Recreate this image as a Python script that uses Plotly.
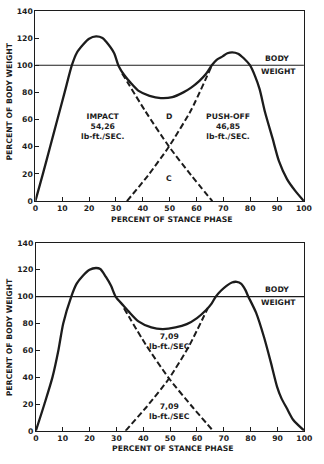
import plotly.graph_objects as go

W, H = 324, 464
INK = "#1c1c1c"
FONT = "DejaVu Sans"

# ---- data: top chart ----
top_x = [0, 2.8, 5.5, 8.2, 10.9, 13.6, 15.4, 17.8, 20, 22.6, 25, 26.3, 29.3, 31, 33,
         35.5, 38.3, 42.5, 46.7, 51, 55.1, 58, 61.1, 63.5, 65.7, 67.5, 69.7, 71.5, 73.3,
         75.5, 77.5, 79.9, 81.8, 83.5, 85.5, 88.3, 90.7, 93.7, 96.7, 100]
top_y = [0, 20, 40, 60, 80, 100, 109, 115.2, 119.5, 121.2, 120, 117.4, 109, 99.5, 93,
         87, 81.3, 77.5, 75.8, 76.5, 80, 83.5, 88.5, 93.5, 100, 104, 106.5, 108.8, 109.5,
         108.5, 105.3, 100, 92, 82.4, 65.6, 46.3, 29.4, 16.2, 7.7, 0]
top_c_x = [32.3, 41, 49.7, 58, 65.9]   # descending dashed (impact)
top_c_y = [94, 66, 40.3, 19, 0]
top_d_x = [34.1, 42, 49.7, 58, 65.6]   # ascending dashed (push-off)
top_d_y = [0, 19, 40, 67, 99.3]

# ---- data: bottom chart ----
bot_x = [0, 3.2, 6.2, 8.4, 10.2, 13.2, 15.2, 17.6, 20, 22.4, 24, 26.1, 28, 29.7, 32.5,
         34.5, 38.2, 43, 47.2, 52, 56.2, 60, 63.4, 65.5, 67, 69, 71, 73, 74.8, 76.5, 78,
         79, 82, 85, 87.5, 89.8, 91.5, 93.4, 95.8, 100]
bot_y = [0, 20, 40, 60, 80, 100, 109.6, 115.7, 120, 121.3, 120.5, 114.6, 108, 100, 93.5,
         89, 81.5, 77, 75.8, 77, 79.5, 84, 90, 95, 100, 104.5, 108, 110.5, 111, 109.5, 105,
         100.5, 88, 69.5, 51, 33, 24, 17, 8.3, 0]
bot_c_x = [32.8, 41, 49.6, 58, 66]
bot_c_y = [91.3, 64, 39, 18.5, 0]
bot_d_x = [33.4, 41.5, 49.6, 57, 64]
bot_d_y = [0, 18.5, 39, 63, 91.3]

bw_x = [0, 100]
bw_y = [100, 100]

x_ticks = list(range(0, 101, 10))
y_ticks = list(range(0, 141, 20))
x_title = "PERCENT OF STANCE PHASE"
y_title = "PERCENT OF BODY WEIGHT"

fig = go.Figure()

def add_chart(xa, ya, cx, cy, c1x, c1y, c2x, c2y):
    fig.add_trace(go.Scatter(x=bw_x, y=bw_y, mode="lines", xaxis=xa, yaxis=ya,
                             line=dict(color=INK, width=1.1), showlegend=False, hoverinfo="skip"))
    for dx, dy in ((c1x, c1y), (c2x, c2y)):
        fig.add_trace(go.Scatter(x=dx, y=dy, mode="lines", xaxis=xa, yaxis=ya,
                                 line=dict(color=INK, width=2, dash="6px,3px", shape="spline", smoothing=0.6),
                                 showlegend=False, hoverinfo="skip"))
    fig.add_trace(go.Scatter(x=cx, y=cy, mode="lines", xaxis=xa, yaxis=ya,
                             line=dict(color=INK, width=2.3, shape="spline", smoothing=0.7),
                             showlegend=False, hoverinfo="skip"))

add_chart("x", "y", top_x, top_y, top_c_x, top_c_y, top_d_x, top_d_y)
add_chart("x2", "y2", bot_x, bot_y, bot_c_x, bot_c_y, bot_d_x, bot_d_y)

def px_x(p):
    return p / W

def px_y(p):
    return 1 - p / H

axis_common = dict(showgrid=False, zeroline=False, showline=True, linecolor=INK, linewidth=1,
                   mirror=True, ticks="inside", ticklen=4, tickwidth=1, tickcolor=INK,
                   tickfont=dict(family=FONT, size=7.7, color=INK, weight="bold"))

fig.update_layout(
    width=W, height=H, margin=dict(l=0, r=0, t=0, b=0),
    paper_bgcolor="white", plot_bgcolor="white",
    xaxis=dict(domain=[px_x(33.5), px_x(311.5)], range=[0, 100], tickvals=x_ticks,
               anchor="y", **axis_common),
    yaxis=dict(domain=[px_y(201), px_y(7)], range=[0, 140], tickvals=y_ticks,
               anchor="x", **axis_common),
    xaxis2=dict(domain=[px_x(34), px_x(312)], range=[0, 100], tickvals=x_ticks,
                anchor="y2", **axis_common),
    yaxis2=dict(domain=[px_y(435.3), px_y(243.6)], range=[0, 140], tickvals=y_ticks,
                anchor="x2", **axis_common),
)

tf = dict(family=FONT, size=7.7, color=INK, weight="bold")
ann = []
def a(text, x, y, xref="x", yref="y", **kw):
    ann.append(dict(text=text, x=x, y=y, xref=xref, yref=yref, showarrow=False,
                    font=tf, xanchor="center", yanchor="middle", **kw))

# top chart labels
a("IMPACT<br>54,26<br>lb-ft./SEC.", 25, 54.7)
a("PUSH-OFF<br>46,85<br>lb-ft./SEC.", 71.8, 54.7)
a("D", 49.7, 62)
a("C", 49.7, 16.9)
a("BODY", 90.1, 105.3)
a("WEIGHT", 90.7, 95.2)
a(x_title, px_x(174), px_y(220), xref="paper", yref="paper")
a(y_title, px_x(6.7), px_y(99), xref="paper", yref="paper", textangle=-90)

# bottom chart labels
a("7,09<br>lb-ft./SEC", 49.6, 66.5, xref="x2", yref="y2")
a("7,09<br>lb-ft./SEC", 49.6, 14.4, xref="x2", yref="y2")
a("BODY", 89.8, 105, xref="x2", yref="y2")
a("WEIGHT", 90.4, 95.3, xref="x2", yref="y2")
a(x_title, px_x(175), px_y(453.7), xref="paper", yref="paper")
a(y_title, px_x(6.7), px_y(339.4), xref="paper", yref="paper", textangle=-90)

fig.update_layout(annotations=ann)
fig.write_html("out.html")
